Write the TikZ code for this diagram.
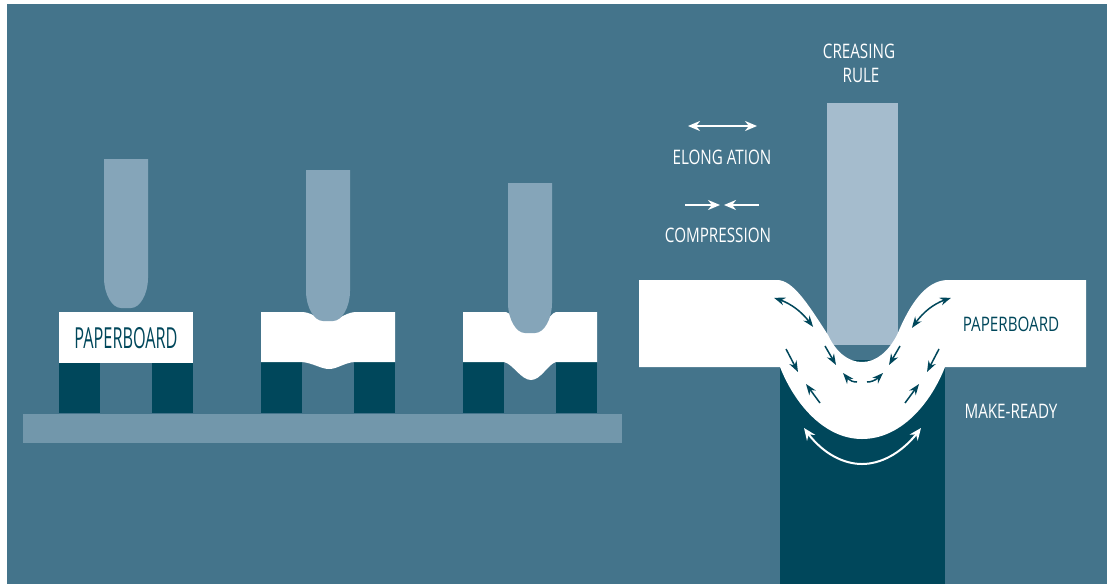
\documentclass[tikz,border=0pt]{standalone}
\usepackage{fontspec}
\usepackage{xcolor}
\usetikzlibrary{arrows.meta, bending}
\newfontfamily\labelfont[FakeStretch=0.76]{Open Sans}
\newfontfamily\tallfont[FakeStretch=0.56]{Open Sans}
\definecolor{bgblue}{HTML}{44748B}
\definecolor{darkblue}{HTML}{00475B}
\definecolor{baseblue}{HTML}{7297AB}
\definecolor{rulesmall}{HTML}{85A5B9}
\definecolor{rulebig}{HTML}{A5BCCD}
\tikzset{
  whitetext/.style={text=white, font=\labelfont\fontsize{20}{20}\selectfont, inner sep=0pt, align=center},
  darktext/.style={whitetext, text=darkblue},
  stressdark/.style={darkblue, line width=1.5pt, {Stealth[length=11pt,width=8pt,bend]}-{Stealth[length=11pt,width=8pt,bend]}},
  pressdark/.style={darkblue, line width=1.5pt, -{Stealth[length=11pt,width=8pt]}},
  legendarrow/.style={white, line width=2pt, {Stealth[length=12pt,width=10pt]}-{Stealth[length=12pt,width=10pt]}},
  legendpress/.style={white, line width=2pt, -{Stealth[length=12pt,width=10pt]}}
}
\begin{document}
\begin{tikzpicture}[x=1pt, y=-1pt]
    \useasboundingbox (0,0) rectangle (1107,584);
    \fill[bgblue] (7,4) rectangle (1107,584);

    % --- Left Side: Three Stages ---
    % Base plate and make-ready blocks
    \fill[baseblue] (23,414) rectangle (622,443);
    \foreach \xleg in {59,152,261,354,463,556}
      \fill[darkblue] (\xleg,362) rectangle ++(41,51);

    % Paperboard strips
    \fill[white] (59,312) rectangle (193,362.5);
    \fill[white] (261,312) -- (303,312) .. controls (314,313) and (320,321) .. (329,321)
          .. controls (338,321) and (344,313) .. (355,312) -- (395,312) -- (395,362)
          -- (354,362) .. controls (344,363) and (337,369) .. (329,369)
          .. controls (321,369) and (313,363) .. (302,362) -- (261,362) -- cycle;
    \fill[white] (463,312) -- (506,312) .. controls (514,314) and (518,332) .. (531,332)
          .. controls (544,332) and (548,314) .. (556,312) -- (597,312) -- (597,362)
          -- (556,362) .. controls (548,364) and (541,380) .. (531,380)
          .. controls (521,380) and (513,364) .. (504,362) -- (463,362) -- cycle;

    % Creasing rules
    \foreach \xrule/\ytop/\ytip in {104/159/308, 306/170/321, 508/183/333}
      \fill[rulesmall] (\xrule,\ytop) -- ++(44,0) -- (\xrule+44,\ytip-30)
          .. controls (\xrule+44,\ytip-14) and (\xrule+36,\ytip) .. (\xrule+27,\ytip)
          -- (\xrule+17,\ytip)
          .. controls (\xrule+8,\ytip) and (\xrule,\ytip-14) .. (\xrule,\ytip-30) -- cycle;

    \node[darktext, font=\tallfont\fontsize{29}{29}\selectfont] (boardleft) at (126,338) {PAPERBOARD};

    % --- Right Side: Close-up ---
    % Make-ready and creasing rule
    \fill[darkblue] (780,360) rectangle (945,584);
    \fill[rulebig] (827,103) rectangle (898,345);

    % Deformed paperboard
    \fill[white] (639,280) -- (777,280) .. controls (793,280) and (808,304) .. (828,335)
          .. controls (836,352) and (848,362) .. (862,362)
          .. controls (876,362) and (888,352) .. (897,335)
          .. controls (909,306) and (925,280) .. (948,280)
          -- (1086,280) -- (1086,367) -- (945,367)
          .. controls (930,405) and (900,439) .. (862,439)
          .. controls (825,439) and (795,405) .. (780,367)
          -- (639,367) -- cycle;

    % Stress arrows
    \draw[stressdark] (774,298) .. controls (790,302) and (803,312) .. (813,327);
    \draw[stressdark] (951,298) .. controls (935,302) and (922,312) .. (912,328);
    \draw[pressdark] (786,349) -- (798,372);
    \draw[pressdark] (820,403) -- (806,384);
    \draw[pressdark] (825,346) -- (836,365);
    \draw[pressdark] (900,346) -- (889,365);
    \draw[pressdark] (939,349) -- (927,372);
    \draw[pressdark] (905,403) -- (919,384);
    \draw[pressdark] (857,382) .. controls (851,382) and (847,379) .. (843,373);
    \draw[pressdark] (867,382) .. controls (873,382) and (878,379) .. (883,373);
    \draw[legendarrow] (804,428) .. controls (820,452) and (842,464) .. (862,464)
          .. controls (882,464) and (904,452) .. (921,428);

    % Legend arrows
    \draw[legendarrow] (688,126) -- (757,126);
    \draw[legendpress] (685,205) -- (720,205);
    \draw[legendpress] (759,205) -- (724,205);

    % --- Labels ---
    \node[whitetext] (creasing) at (859,51) {CREASING};
    \node[whitetext] (rule) at (861,75) {RULE};
    \node[whitetext] (elongation) at (722,157) {ELONG ATION};
    \node[whitetext] (compression) at (718,235) {COMPRESSION};
    \node[darktext] (boardright) at (1011,324) {PAPERBOARD};
    \node[whitetext] (makeready) at (1011,411) {MAKE-READY};
\end{tikzpicture}
\end{document}
